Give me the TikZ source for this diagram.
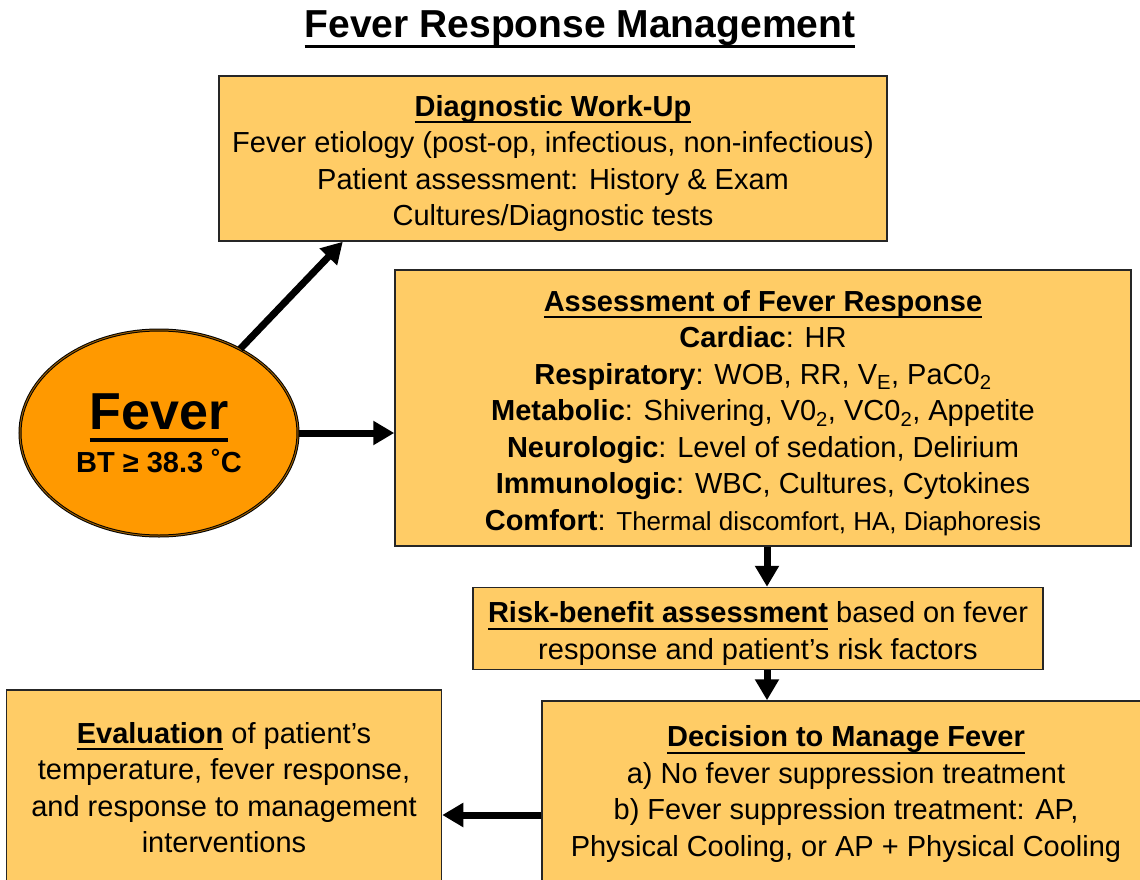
\documentclass[tikz,border=0pt]{standalone}
\usepackage{fontspec}
\setmainfont{Liberation Sans}
\usetikzlibrary{shapes.geometric, arrows.meta, positioning, calc}

\definecolor{boxfill}{RGB}{255,204,102}
\definecolor{feverfill}{RGB}{255,153,0}

% subrayado: #1 = borde inferior bajo la base, #2 = grosor, #3 = texto
\newcommand{\ultext}[3]{\leavevmode\setbox0\hbox{#3}\rlap{\rule[-#1]{\wd0}{#2}}\box0\relax}
\newcommand{\ulbf}[1]{\ultext{7pt}{2pt}{\textbf{#1}}}
% margen extra arriba de la primera linea
\newcommand{\topgap}{\rule{0pt}{31pt}}

\begin{document}
\begin{tikzpicture}[x=1pt, y=-1pt, >={Triangle[length=21pt, width=23pt]}]
	\tikzset{
		box/.style={draw=black!85, line width=1.5pt, fill=boxfill, rectangle, inner sep=0pt, align=center, font=\fontsize{29}{36.5}\selectfont},
		fevernode/.style={draw=black, line width=1pt, double=feverfill!60!black, double distance=1pt, fill=feverfill, ellipse, inner sep=0pt, align=center, font=\bfseries\fontsize{29}{43}\selectfont},
		flow/.style={->, line width=7pt}
	}
	\useasboundingbox (0,0) rectangle (1140,880);
	\clip (0,0) rectangle (1140,880);

	% --- Titulo ---
	\node[anchor=base, font=\bfseries\fontsize{39}{39}\selectfont] (title) at (580,38)
		{\ultext{10pt}{3pt}{Fever Response Management}};

	% --- Fiebre ---
	\node[fevernode, minimum width=278pt, minimum height=206pt] (fever) at (159,433)
		{{\fontsize{52}{45}\selectfont\ultext{13pt}{4pt}{Fever}}\\ BT ≥ 38.3 ˚C};

	% --- Bloques ---
	\node[box, minimum width=668pt, minimum height=165pt] (diag) at (553,158.5)
		{\topgap\ulbf{Diagnostic Work-Up}\\ Fever etiology (post-op, infectious, non-infectious)\\ Patient assessment: History \& Exam\\ Cultures/Diagnostic tests};
	\node[box, minimum width=736pt, minimum height=276pt] (assess) at (763,408)
		{\topgap\ulbf{Assessment of Fever Response}\\
		 \textbf{Cardiac}: HR\\
		 \textbf{Respiratory}: WOB, RR, V\textsubscript{E}, PaC0\textsubscript{2}\\
		 \textbf{Metabolic}: Shivering, V0\textsubscript{2}, VC0\textsubscript{2}, Appetite\\
		 \textbf{Neurologic}: Level of sedation, Delirium\\
		 \textbf{Immunologic}: WBC, Cultures, Cytokines\\
		 \textbf{Comfort}: {\fontsize{26}{36.5}\selectfont Thermal discomfort, HA, Diaphoresis}};
	\node[box, minimum width=570pt, minimum height=82pt, below=40pt of assess, xshift=-5pt] (risk)
		{\topgap\ulbf{Risk-benefit assessment} based on fever\\ response and patient’s risk factors};
	\node[box, minimum width=608pt, minimum height=186pt, below=30pt of risk, xshift=88pt] (decision)
		{\ulbf{Decision to Manage Fever}\\ a) No fever suppression treatment\\ b) Fever suppression treatment: AP,\\ Physical Cooling, or AP + Physical Cooling};
	\node[box, minimum width=435pt, minimum height=195pt, left=99pt of decision, yshift=6.5pt] (eval)
		{\ulbf{Evaluation} of patient’s\\ temperature, fever response,\\ and response to management\\ interventions};

	% --- Conexiones ---
	\draw[flow] (fever.46) -- ($(diag.south west)!0.186!(diag.south east)$);
	\draw[flow] (fever.east) -- (fever.east -| assess.west);
	% bajada por la columna derecha
	\coordinate (col) at ($(assess.south)+(4,0)$);
	\draw[flow] (col) -- (col |- risk.north);
	\draw[flow] (col |- risk.south) -- (col |- decision.north);
	% salida hacia la evaluacion
	\coordinate (d_out) at ($(decision.west)+(0,21)$);
	\draw[flow] (d_out) -- (d_out -| eval.east);
\end{tikzpicture}
\end{document}
